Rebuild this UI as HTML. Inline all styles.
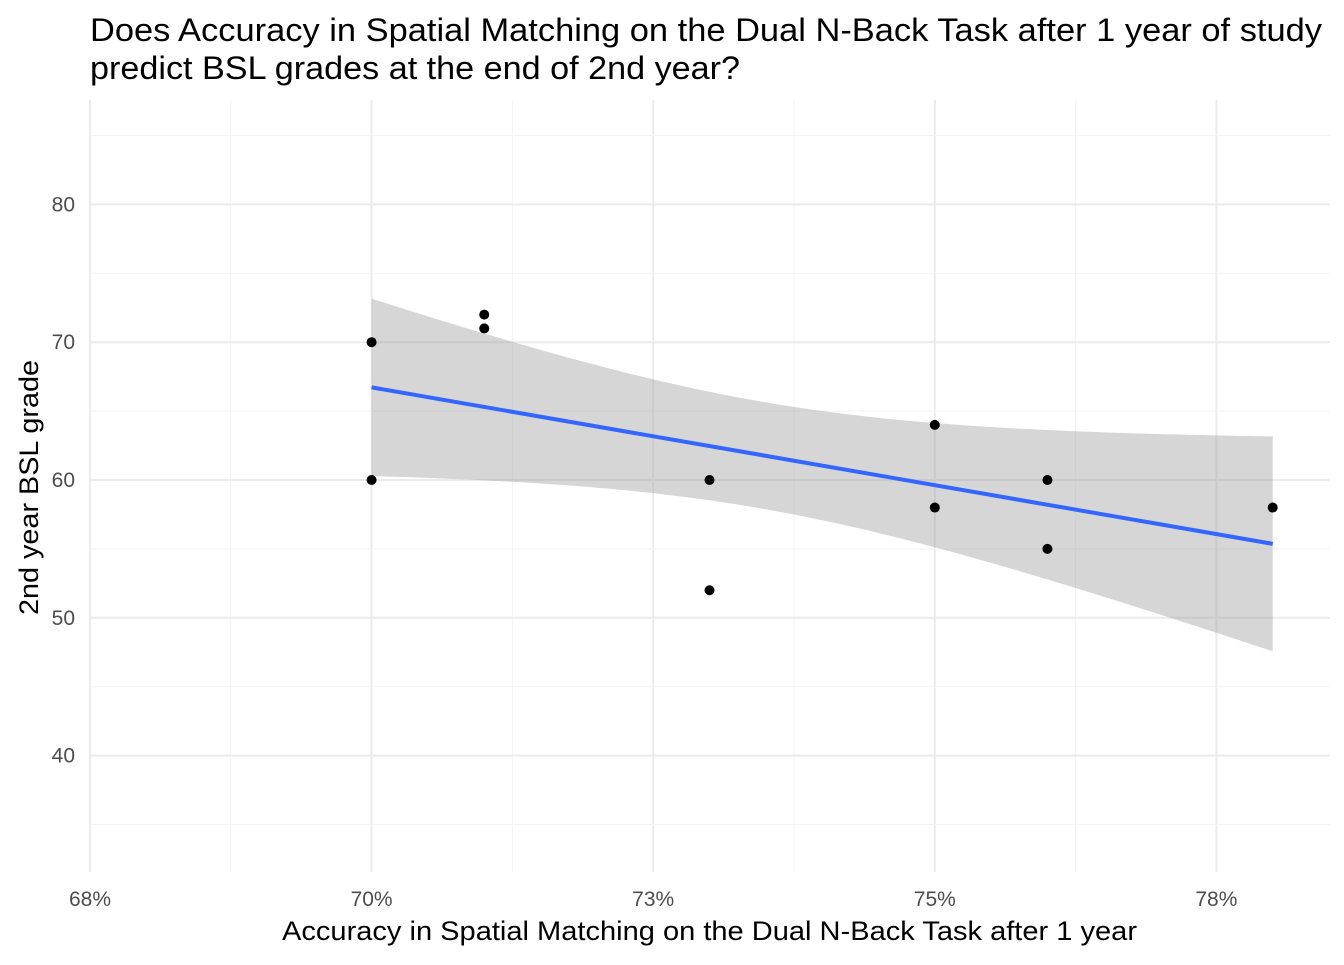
<!DOCTYPE html>
<html><head><meta charset="utf-8"><style>
body{margin:0;background:#fff;font-family:"Liberation Sans",sans-serif}
</style></head><body>
<svg id="c" width="1344" height="960" xmlns="http://www.w3.org/2000/svg">
<text x="90" y="41" font-size="32" textLength="1232" lengthAdjust="spacingAndGlyphs" fill="#000">Does Accuracy in Spatial Matching on the Dual N-Back Task after 1 year of study</text>
<text x="90" y="79" font-size="32" textLength="650" lengthAdjust="spacingAndGlyphs" fill="#000">predict BSL grades at the end of 2nd year?</text>
<text x="282" y="940" font-size="27" textLength="855" lengthAdjust="spacingAndGlyphs" fill="#000">Accuracy in Spatial Matching on the Dual N-Back Task after 1 year</text>
<text transform="translate(38,615) rotate(-90)" font-size="27" textLength="255" lengthAdjust="spacingAndGlyphs" fill="#000">2nd year BSL grade</text>
<g id="grid"></g><g id="band"></g><g id="line"></g><g id="pts"></g><g id="ticks"></g>
</svg>
<script>
const xVals=[70,70,71,71,73,73,75,75,76,76,78];
const yVals=[70,60,72,71,60,52,64,58,60,55,58];
const xTicks=[67.5,70,72.5,75,77.5];
const xTickLabels=["68%","70%","73%","75%","78%"];
const yTicks=[40,50,60,70,80];
const NS="http://www.w3.org/2000/svg";
const X=v=>90+(v-67.5)*112.64;
const Y=v=>480-(v-60)*13.78;
const L=89,R=1330,T=100,B=872;
function mk(tag,a,p){const e=document.createElementNS(NS,tag);for(const k in a)e.setAttribute(k,a[k]);p.appendChild(e);return e;}
const g=document.getElementById('grid'),tk=document.getElementById('ticks');
for(let i=0;i<xTicks.length;i++){
 const l=mk('line',{x1:X(xTicks[i]),x2:X(xTicks[i]),y1:T,y2:B,stroke:'#ebebeb','stroke-width':2},g);
 
 
 if(i<xTicks.length-1){const m=(xTicks[i]+xTicks[i+1])/2;const ml=mk('line',{x1:X(m),x2:X(m),y1:T,y2:B,stroke:'#f3f3f3','stroke-width':1},g);
 
 }
 const t=mk('text',{x:X(xTicks[i]),y:906,'font-size':21,fill:'#4d4d4d','text-anchor':'middle'},tk);t.textContent=xTickLabels[i];
 
 
}
for(let i=0;i<yTicks.length;i++){
 const l=mk('line',{x1:L,x2:R,y1:Y(yTicks[i]),y2:Y(yTicks[i]),stroke:'#ebebeb','stroke-width':2},g);
 
 
 const t=mk('text',{x:75,y:Y(yTicks[i])+7,'font-size':21,fill:'#4d4d4d','text-anchor':'end'},tk);t.textContent=yTicks[i];
 
 
}
for(let i=0;i<=yTicks.length;i++){const m=yTicks[0]-5+i*10;const ml=mk('line',{x1:L,x2:R,y1:Y(m),y2:Y(m),stroke:'#f3f3f3','stroke-width':1},g);
 
 }
const n=xVals.length,mx=xVals.reduce((a,b)=>a+b)/n,my=yVals.reduce((a,b)=>a+b)/n;
let sxx=0,sxy=0;for(let i=0;i<n;i++){sxx+=(xVals[i]-mx)**2;sxy+=(xVals[i]-mx)*(yVals[i]-my);}
const b=sxy/sxx,a=my-b*mx;let sse=0;for(let i=0;i<n;i++)sse+=(yVals[i]-a-b*xVals[i])**2;
const s=Math.sqrt(sse/(n-2)),tq=2.262;
const x0=Math.min(...xVals),x1=Math.max(...xVals);
let up=[],lo=[];
for(let k=0;k<=80;k++){const x=x0+(x1-x0)*k/80,f=a+b*x,se=s*Math.sqrt(1/n+(x-mx)**2/sxx);up.push(X(x)+','+Y(f+tq*se));lo.unshift(X(x)+','+Y(f-tq*se));}
const band=mk('polygon',{points:up.concat(lo).join(' '),fill:'#999','fill-opacity':0.4},document.getElementById('band'));


const ln=mk('line',{x1:X(x0),y1:Y(a+b*x0),x2:X(x1),y2:Y(a+b*x1),stroke:'#3366ff','stroke-width':4},document.getElementById('line'));


for(let i=0;i<n;i++){const c=mk('circle',{cx:X(xVals[i]),cy:Y(yVals[i]),r:5,fill:'#000'},document.getElementById('pts'));
 
 }
</script>
</body></html>
